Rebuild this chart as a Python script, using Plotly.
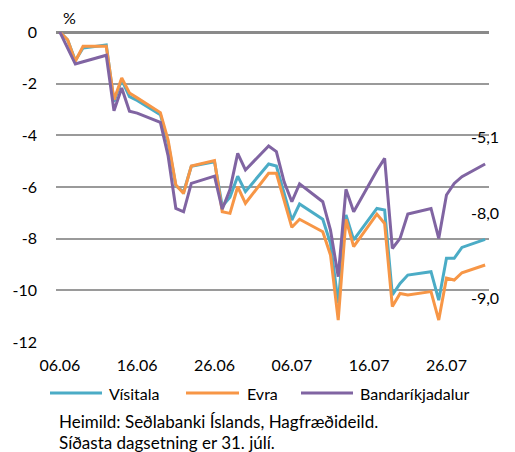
import plotly.graph_objects as go

dates = ["2006-06-06", "2006-06-07", "2006-06-08", "2006-06-09", "2006-06-12", "2006-06-13",
         "2006-06-14", "2006-06-15", "2006-06-16", "2006-06-19", "2006-06-20", "2006-06-21",
         "2006-06-22", "2006-06-23", "2006-06-26", "2006-06-27", "2006-06-28", "2006-06-29",
         "2006-06-30", "2006-07-03", "2006-07-04", "2006-07-05", "2006-07-06", "2006-07-07",
         "2006-07-10", "2006-07-11", "2006-07-12", "2006-07-13", "2006-07-14", "2006-07-17",
         "2006-07-18", "2006-07-19", "2006-07-20", "2006-07-21", "2006-07-24", "2006-07-25",
         "2006-07-26", "2006-07-27", "2006-07-28", "2006-07-31"]

visitala = [0, -0.30, -1.10, -0.62, -0.50, -2.70, -1.85, -2.50, -2.65, -3.20,
            -4.30, -5.95, -6.20, -5.20, -5.02, -6.75, -6.40, -5.58, -6.18, -5.11,
            -5.19, -6.20, -7.28, -6.66, -7.25, -8.18, -10.50, -7.08, -8.05, -6.83,
            -6.89, -10.18, -9.73, -9.41, -9.28, -10.38, -8.76, -8.76, -8.34, -8.03]

evra = [0, -0.30, -1.13, -0.55, -0.55, -2.62, -1.78, -2.36, -2.55, -3.12,
        -4.18, -5.92, -6.25, -5.19, -4.98, -6.96, -7.02, -5.99, -6.63, -5.47,
        -5.47, -6.50, -7.56, -7.25, -7.73, -8.63, -11.15, -7.25, -8.31, -7.05,
        -7.41, -10.63, -10.12, -10.18, -10.05, -11.15, -9.53, -9.60, -9.32, -9.02]

usd = [0, -0.60, -1.24, -1.15, -0.90, -3.05, -2.17, -3.07, -3.14, -3.50,
       -4.80, -6.83, -6.96, -5.86, -5.58, -6.86, -6.10, -4.70, -5.34, -4.41,
       -4.63, -5.80, -6.57, -5.88, -6.57, -7.67, -9.47, -6.09, -6.96, -5.36,
       -4.89, -8.38, -7.99, -7.05, -6.83, -7.99, -6.31, -5.86, -5.60, -5.11]

series_names = ["Vísitala", "Evra", "Bandaríkjadalur"]
tick_dates = ["2006-06-06", "2006-06-16", "2006-06-26", "2006-07-06", "2006-07-16", "2006-07-26"]
tick_text = ["06.06", "16.06", "26.06", "06.07", "16.07", "26.07"]
y_ticks = [0, -2, -4, -6, -8, -10, -12]
y_text = ["0", "-2", "-4", "-6", "-8", "-10", "-12"]
source_lines = ["Heimild: Seðlabanki Íslands, Hagfræðideild.", "Síðasta dagsetning er 31. júlí."]

colors = ["#4bacc6", "#f79646", "#8064a2"]
FONT = "Lato"
W, H = 515, 452
OFF = 8  # page body margin
# plot area in screen pixels
SL, SR, ST, SB = 56, 489, 32, 342
L, R, T, B = SL - OFF, SR - OFF, ST - OFF, SB - OFF


def px(x):
    return (x - SL) / (SR - SL)


def py(y):
    return (SB - y) / (SB - ST)


fig = go.Figure()
for name, vals, c in zip(series_names, [visitala, evra, usd], colors):
    fig.add_trace(go.Scatter(x=dates, y=vals, mode="lines", name=name,
                             line=dict(color=c, width=3), showlegend=False))

annotations = []
shapes = []
# end labels
shifts = [27, -32, 28]
for vals, sh in zip([visitala, evra, usd], shifts):
    annotations.append(dict(x=dates[-1], y=vals[-1], xref="x", yref="y",
                            text=f"{vals[-1]:.1f}".replace(".", ","), showarrow=False,
                            yshift=sh, xanchor="center", yanchor="middle",
                            font=dict(family=FONT, size=16, color="#000")))

# % label
annotations.append(dict(x=px(69), y=py(17), xref="paper", yref="paper", text="%",
                        showarrow=False, xanchor="center", yanchor="middle",
                        font=dict(family=FONT, size=16, color="#000")))

# custom legend
leg_y = py(393)
leg_pos = [(50, 102, 107), (186, 239, 245), (301, 353, 358)]
for name, c, (x0, x1, xt) in zip(series_names, colors, leg_pos):
    shapes.append(dict(type="line", xref="paper", yref="paper", x0=px(x0), x1=px(x1),
                       y0=leg_y, y1=leg_y, line=dict(color=c, width=3)))
    annotations.append(dict(x=px(xt), y=leg_y, xref="paper", yref="paper", text=name,
                            showarrow=False, xanchor="left", yanchor="middle",
                            font=dict(family=FONT, size=16, color="#000")))

for i, line in enumerate(source_lines):
    annotations.append(dict(x=px(57), y=py(421 + 22 * i), xref="paper", yref="paper",
                            text=line, showarrow=False, xanchor="left", yanchor="middle",
                            font=dict(family=FONT, size=17, color="#000")))

fig.update_layout(
    width=W, height=H,
    margin=dict(l=L, r=W - R, t=T, b=H - B, pad=0, autoexpand=False),
    paper_bgcolor="white", plot_bgcolor="white",
    font=dict(family=FONT, size=16, color="#000"),
    annotations=annotations, shapes=shapes,
    xaxis=dict(type="date", range=["2006-06-05 12:00", "2006-07-31 12:00"],
               tickvals=tick_dates, ticktext=tick_text, showgrid=False, automargin=False,
               zeroline=False, showline=False, ticks="", ticklabelstandoff=12,
               tickfont=dict(family=FONT, size=16, color="#000")),
    yaxis=dict(range=[-12, 0], tickvals=y_ticks, ticktext=y_text, automargin=False,
               showgrid=True, gridcolor="#9a9a9a", gridwidth=1.5,
               zeroline=True, zerolinecolor="#8a8a8a", zerolinewidth=3,
               showline=False, ticks="", ticklabelstandoff=18,
               tickfont=dict(family=FONT, size=16, color="#000")),
)

fig.write_html("out.html")
